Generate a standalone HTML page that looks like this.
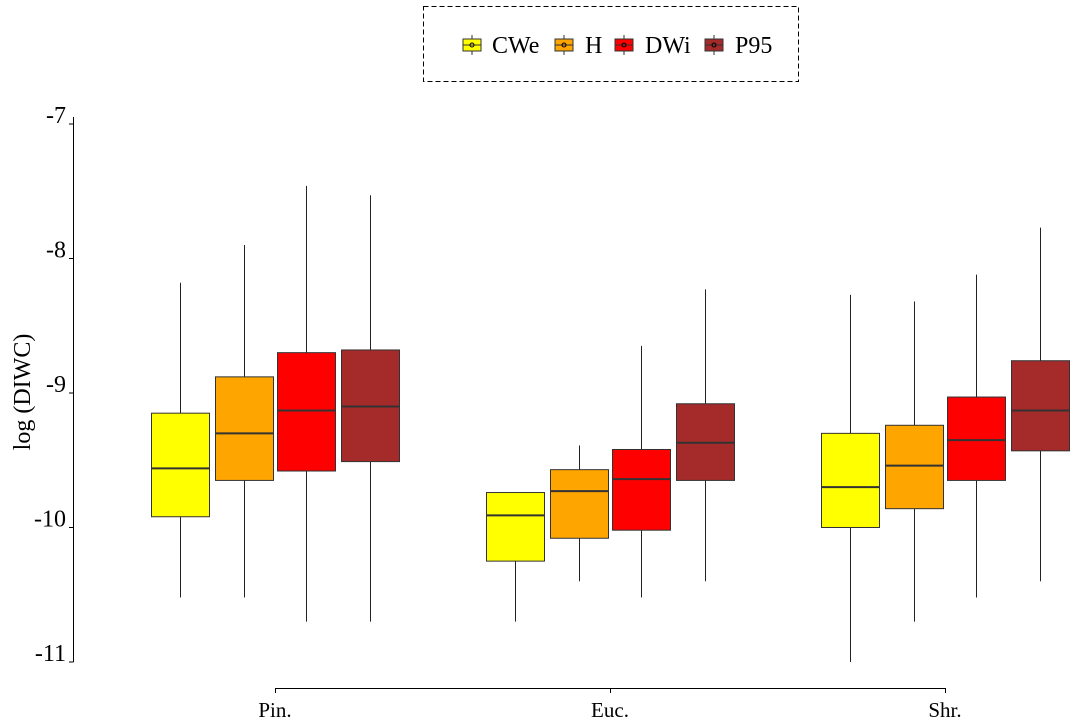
<!DOCTYPE html>
<html><head><meta charset="utf-8"><style>
body{margin:0;background:#fff}
svg{display:block;font-family:"Liberation Serif",serif}
</style></head><body>
<svg id="chart" width="1080" height="722">
<g>
<rect x="423.5" y="6.5" width="375" height="75" fill="none" stroke="#000" stroke-dasharray="5,3"/>
<g id="leg"></g>
</g>
<g id="axes"></g>
<g id="boxes"></g>
<text x="0" y="0" transform="translate(30,392) rotate(-90)" text-anchor="middle" font-size="24">log (DIWC)</text>
</svg>
<script>
const categories=["Pin.","Euc.","Shr."];
const series=["CWe","H","DWi","P95"];
const colors=["#FFFF00","#FFA500","#FF0000","#A52A2A"];
const yTicks=[-7,-8,-9,-10,-11];
// [whiskerHigh, Q3, median, Q1, whiskerLow] per category per series
const pinStats=[[-8.18,-9.15,-9.56,-9.92,-10.52],[-7.90,-8.88,-9.30,-9.65,-10.52],[-7.46,-8.70,-9.13,-9.58,-10.70],[-7.53,-8.68,-9.10,-9.51,-10.70]];
const eucStats=[[-9.74,-9.74,-9.91,-10.25,-10.70],[-9.39,-9.57,-9.73,-10.08,-10.40],[-8.65,-9.42,-9.64,-10.02,-10.52],[-8.23,-9.08,-9.37,-9.65,-10.40]];
const shrStats=[[-8.27,-9.30,-9.70,-10.00,-11.0],[-8.32,-9.24,-9.54,-9.86,-10.70],[-8.12,-9.03,-9.35,-9.65,-10.52],[-7.77,-8.76,-9.13,-9.43,-10.40]];
const allStats=[pinStats,eucStats,shrStats];
const NS="http://www.w3.org/2000/svg";
const y=v=>124+(-7-v)*134.5;
const x=i=>275+i*335;
const off=[-95,-31,31,95], bw=58;
function mk(t,a,p){const e=document.createElementNS(NS,t);for(const k in a)e.setAttribute(k,a[k]);p.appendChild(e);return e;}
const ax=document.getElementById('axes');
let l=mk('line',{x1:73.5,y1:117,x2:73.5,y2:662,stroke:'#000'},ax);


yTicks.forEach(t=>{
 const tk=mk('line',{x1:69,x2:73.5,y1:y(t),y2:y(t),stroke:'#000'},ax);
 
 
 const tx=mk('text',{x:66,y:y(t)-1,'text-anchor':'end','font-size':24},ax);
 tx.textContent=t;
 
 
});
l=mk('line',{x1:x(0),x2:x(2),y1:688.5,y2:688.5,stroke:'#000'},ax);


categories.forEach((c,i)=>{
 const tk=mk('line',{x1:x(i)+.5,x2:x(i)+.5,y1:688,y2:693,stroke:'#000'},ax);
 
 
 const tx=mk('text',{x:x(i),y:717,'text-anchor':'middle','font-size':21},ax);
 tx.textContent=c;
 
 
});
const bx=document.getElementById('boxes');
allStats.forEach((cs,i)=>cs.forEach((s,j)=>{
 const g=mk('g',{},bx);
 
 
 const cx=Math.round(x(i)+off[j])+0.5;
 mk('line',{x1:cx,x2:cx,y1:y(s[0]),y2:y(s[1]),stroke:'#222'},g);
 mk('line',{x1:cx,x2:cx,y1:y(s[3]),y2:y(s[4]),stroke:'#222'},g);
 mk('rect',{x:cx-bw/2,y:y(s[1]),width:bw,height:y(s[3])-y(s[1]),fill:colors[j],stroke:'#333'},g);
 mk('line',{x1:cx-bw/2,x2:cx+bw/2,y1:y(s[2]),y2:y(s[2]),stroke:'#333','stroke-width':2},g);
}));
const lg=document.getElementById('leg');
const lx=[463,555,615,705], tx=[492,585,645,735];
series.forEach((s,j)=>{
 const g=mk('g',{},lg);
 
 
 mk('line',{x1:lx[j]+9,x2:lx[j]+9,y1:35,y2:55,stroke:'#333'},g);
 mk('rect',{x:lx[j],y:39,width:18,height:12,fill:colors[j],stroke:'#333'},g);
 mk('line',{x1:lx[j],x2:lx[j]+18,y1:45,y2:45,stroke:'#333'},g);
 mk('circle',{cx:lx[j]+9,cy:45,r:2,fill:'none',stroke:'#000'},g);
 const t=mk('text',{x:tx[j],y:53,'font-size':24},g);
 t.textContent=s;
});
</script>
</body></html>
